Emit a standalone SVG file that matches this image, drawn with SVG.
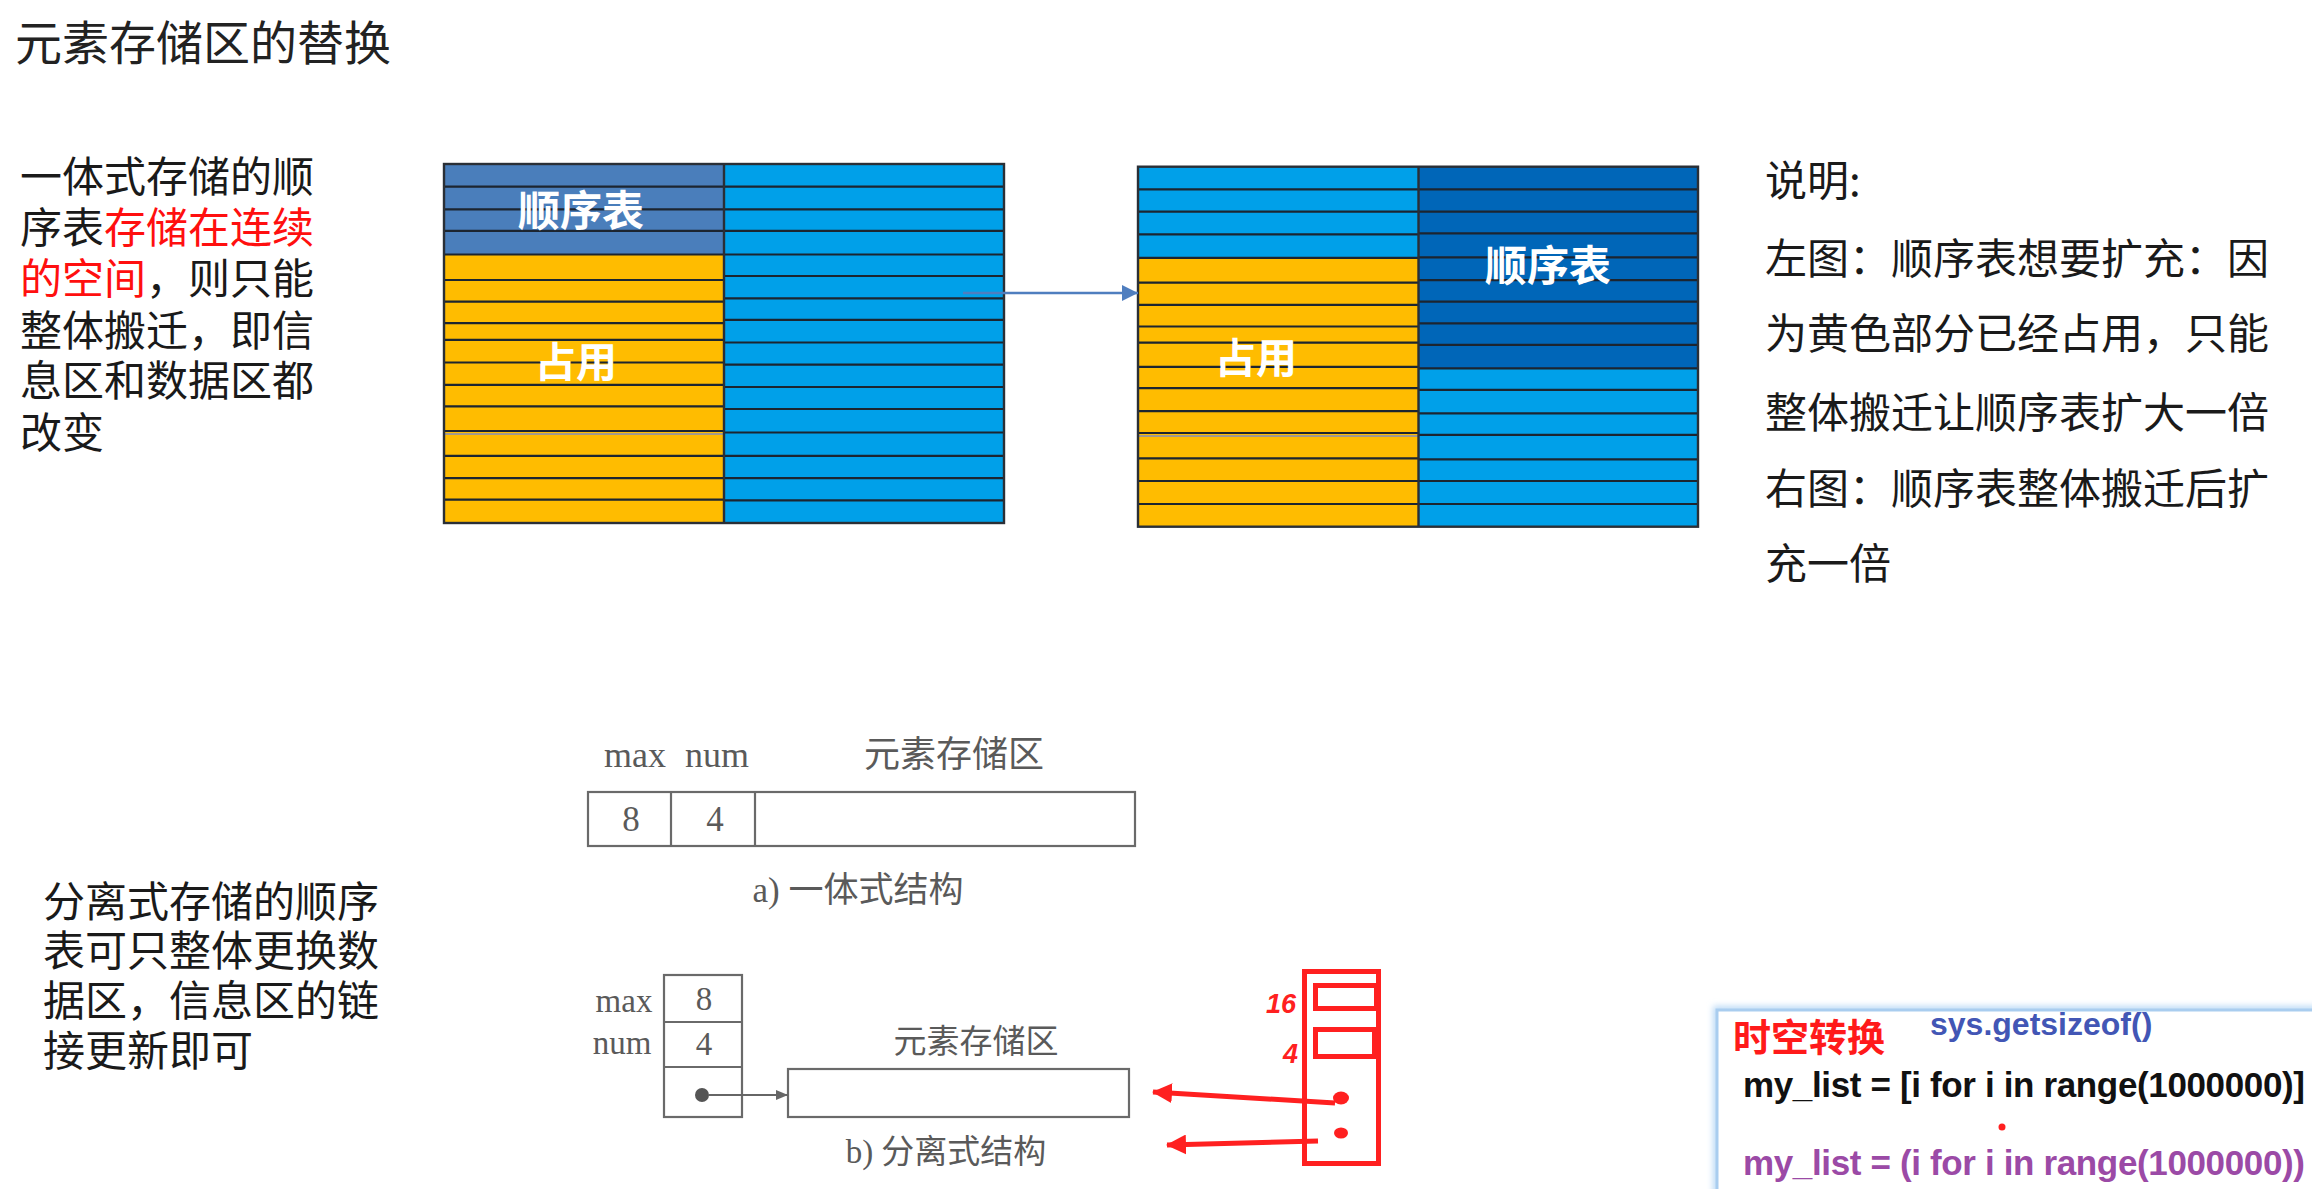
<svg xmlns="http://www.w3.org/2000/svg" width="2312" height="1189" viewBox="0 0 2312 1189">
<defs>
<style>
.cn{font-family:"Noto Sans CJK SC","Noto Sans",sans-serif}
.body{font-size:42px;fill:#1a1a1a}
.red{fill:#ff0f0f}
.wl{font-weight:700;fill:#ffffff}
.sf{font-family:"Liberation Serif","Noto Sans CJK SC",serif;fill:#5a5a5a}
.gl{stroke:#1c2530;stroke-width:2.2;fill:none}
.gb{stroke:#2a2f36;stroke-width:2.4;fill:none}
.bx{stroke:#6a6a6a;stroke-width:2.2;fill:#fff}
.rs{stroke:#ff2020;stroke-width:5;fill:none}
.rn{font-family:"Liberation Sans",sans-serif;font-weight:700;font-style:italic;font-size:27px;fill:#ff2020}
.code{font-family:"Liberation Sans","Noto Sans",sans-serif;font-weight:700}
</style>
<marker id="ah-gray" viewBox="0 0 12 10" refX="12" refY="5" markerWidth="12" markerHeight="10" markerUnits="userSpaceOnUse" orient="auto">
<path d="M0,0 L12,5 L0,10 z" fill="#666"/>
</marker>
<marker id="ah-red" viewBox="0 0 20 20" refX="19" refY="10" markerWidth="20" markerHeight="20" markerUnits="userSpaceOnUse" orient="auto">
<path d="M0,0 L20,10 L0,20 z" fill="#ff2020"/>
</marker>
<marker id="ah-blue" viewBox="0 0 16 16" refX="16" refY="8" markerWidth="16" markerHeight="16" markerUnits="userSpaceOnUse" orient="auto">
<path d="M0,0 L16,8 L0,16 z" fill="#4f7ebf"/>
</marker>
<filter id="glow" x="-5%" y="-20%" width="110%" height="140%">
<feGaussianBlur stdDeviation="3"/>
</filter>
</defs>
<rect width="2312" height="1189" fill="#ffffff"/>

<g id="title">
<text class="cn" x="15" y="60" font-size="47" fill="#222">元素存储区的替换</text>
</g>

<g id="left-note" class="cn body">
<text x="20" y="192">一体式存储的顺</text>
<text x="20" y="243">序表<tspan class="red">存储在连续</tspan></text>
<text x="20" y="294"><tspan class="red">的空间</tspan>，则只能</text>
<text x="20" y="346">整体搬迁，即信</text>
<text x="20" y="396">息区和数据区都</text>
<text x="20" y="448">改变</text>
</g>

<g id="grid-before">
<rect x="444" y="164" width="280" height="90.5" fill="#4a7ebb"/>
<rect x="444" y="254.5" width="280" height="268.5" fill="#ffbc00"/>
<rect x="724" y="164" width="280" height="359" fill="#00a0e9"/>
<path class="gl" d="M444 186.6H724M444 209.3H724M444 230.8H724M444 254.5H724M444 280H724M444 301.6H724M444 323.1H724M444 339.9H724M444 362.5H724M444 384.8H724M444 406.3H724M444 431H724M444 455.9H724M444 478.2H724M444 499.7H724"/>
<path d="M444 434H724" stroke="#a39a8c" stroke-width="2"/>
<path class="gl" d="M724 186.6H1004M724 209.3H1004M724 230.8H1004M724 254.5H1004M724 276H1004M724 298.3H1004M724 319.8H1004M724 342.5H1004M724 364.7H1004M724 387H1004M724 409H1004M724 432.5H1004M724 455.9H1004M724 478.2H1004M724 500.3H1004"/>
<path class="gb" d="M724 164V523"/>
<rect class="gb" x="444" y="164" width="560" height="359"/>
<text class="cn wl" x="581" y="226" font-size="42" text-anchor="middle">顺序表</text>
<text class="cn wl" x="576" y="377" font-size="41" text-anchor="middle">占用</text>
</g>

<g id="grid-after">
<rect x="1138" y="166.7" width="280.5" height="91.1" fill="#00a0e9"/>
<rect x="1138" y="257.8" width="280.5" height="268.9" fill="#ffbc00"/>
<rect x="1418.5" y="166.7" width="279.5" height="201.6" fill="#0066b8"/>
<rect x="1418.5" y="368.3" width="279.5" height="158.4" fill="#00a0e9"/>
<path class="gl" d="M1138 189.4H1418.5M1138 211.7H1418.5M1138 234.4H1418.5M1138 257.8H1418.5M1138 282.6H1418.5M1138 304.9H1418.5M1138 326.5H1418.5M1138 342.7H1418.5M1138 366.9H1418.5M1138 388.1H1418.5M1138 411.1H1418.5M1138 433H1418.5M1138 458.3H1418.5M1138 481H1418.5M1138 504H1418.5"/>
<path d="M1138 436H1418.5" stroke="#a39a8c" stroke-width="2"/>
<path class="gl" d="M1418.5 189.4H1698M1418.5 211.7H1698M1418.5 233.3H1698M1418.5 257.4H1698M1418.5 280.1H1698M1418.5 301.7H1698M1418.5 323.3H1698M1418.5 344.9H1698M1418.5 368.3H1698M1418.5 389.9H1698M1418.5 413.3H1698M1418.5 434.9H1698M1418.5 459.4H1698M1418.5 481H1698M1418.5 504H1698"/>
<path class="gb" d="M1418.5 166.7V526.7"/>
<rect class="gb" x="1138" y="166.7" width="560" height="360"/>
<text class="cn wl" x="1548" y="281" font-size="42" text-anchor="middle">顺序表</text>
<text class="cn wl" x="1256" y="373" font-size="41" text-anchor="middle">占用</text>
</g>

<g id="explanation" class="cn body">
<text x="1765" y="196">说明:</text>
<text x="1765" y="274">左图：顺序表想要扩充：因</text>
<text x="1765" y="349">为黄色部分已经占用，只能</text>
<text x="1765" y="428">整体搬迁让顺序表扩大一倍</text>
<text x="1765" y="504">右图：顺序表整体搬迁后扩</text>
<text x="1765" y="579">充一倍</text>
</g>

<g id="struct-a">
<text class="sf" x="635" y="767" font-size="36" text-anchor="middle">max</text>
<text class="sf" x="717" y="767" font-size="36" text-anchor="middle">num</text>
<text class="sf" x="954" y="767" font-size="36" text-anchor="middle">元素存储区</text>
<rect class="bx" x="588" y="792" width="547" height="54"/>
<path class="bx" d="M671 792V846M755 792V846"/>
<text class="sf" x="631" y="831" font-size="35" text-anchor="middle">8</text>
<text class="sf" x="715" y="831" font-size="35" text-anchor="middle">4</text>
<text class="sf" x="858" y="902" font-size="35" text-anchor="middle">a) 一体式结构</text>
</g>

<g id="bottom-note" class="cn body">
<text x="43" y="917">分离式存储的顺序</text>
<text x="43" y="966">表可只整体更换数</text>
<text x="43" y="1016">据区，信息区的链</text>
<text x="43" y="1066">接更新即可</text>
</g>

<g id="struct-b">
<text class="sf" x="624" y="1012" font-size="33" text-anchor="middle">max</text>
<text class="sf" x="622" y="1054" font-size="33" text-anchor="middle">num</text>
<rect class="bx" x="664" y="975" width="78" height="142"/>
<path class="bx" d="M664 1022H742M664 1067H742"/>
<text class="sf" x="704" y="1010" font-size="33" text-anchor="middle">8</text>
<text class="sf" x="704" y="1055" font-size="33" text-anchor="middle">4</text>
<circle cx="702" cy="1095" r="7" fill="#555"/>
<text class="sf" x="976" y="1053" font-size="33" text-anchor="middle">元素存储区</text>
<rect class="bx" x="788" y="1069" width="341" height="48"/>
<text class="sf" x="946" y="1163" font-size="33" text-anchor="middle">b) 分离式结构</text>
</g>

<g id="red-struct">
<rect class="rs" x="1304.5" y="971.5" width="74" height="192"/>
<rect class="rs" x="1315.5" y="985.5" width="61" height="23"/>
<rect class="rs" x="1315.5" y="1029.5" width="59" height="27"/>
<text class="rn" x="1296" y="1013" text-anchor="end">16</text>
<text class="rn" x="1298" y="1063" text-anchor="end">4</text>
<ellipse cx="1341" cy="1098" rx="8" ry="6.5" fill="#ff2020"/>
<ellipse cx="1341" cy="1133" rx="7" ry="5.5" fill="#ff2020"/>
</g>

<g id="code-box">
<rect x="1717" y="1010" width="640" height="240" fill="none" stroke="#bcdaf6" stroke-width="8" filter="url(#glow)"/>
<rect x="1717" y="1010" width="640" height="240" fill="#ffffff" stroke="#a9cdef" stroke-width="3"/>
<text class="cn" x="1733" y="1051" font-size="38" font-weight="700" fill="#ff1a1a">时空转换</text>
<text class="code" x="1930" y="1035" font-size="32" fill="#4256b5">sys.getsizeof()</text>
<text class="code" x="1743" y="1097" font-size="35" fill="#111" textLength="562">my_list = [i for i in range(1000000)]</text>
<circle cx="2002" cy="1127" r="3.5" fill="#ff2020"/>
<text class="code" x="1743" y="1175" font-size="35" fill="#9b4aa6" textLength="562">my_list = (i for i in range(1000000))</text>
</g>

<g id="connectors">
<line x1="963" y1="293" x2="1138" y2="293" stroke="#4f7ebf" stroke-width="2.5" marker-end="url(#ah-blue)"/>
<line x1="709" y1="1095" x2="788" y2="1095" stroke="#666" stroke-width="2" marker-end="url(#ah-gray)"/>
<line x1="1335" y1="1103" x2="1153" y2="1092" stroke="#ff2020" stroke-width="5" marker-end="url(#ah-red)"/>
<line x1="1318" y1="1141" x2="1167" y2="1145" stroke="#ff2020" stroke-width="5" marker-end="url(#ah-red)"/>
</g>
</svg>
